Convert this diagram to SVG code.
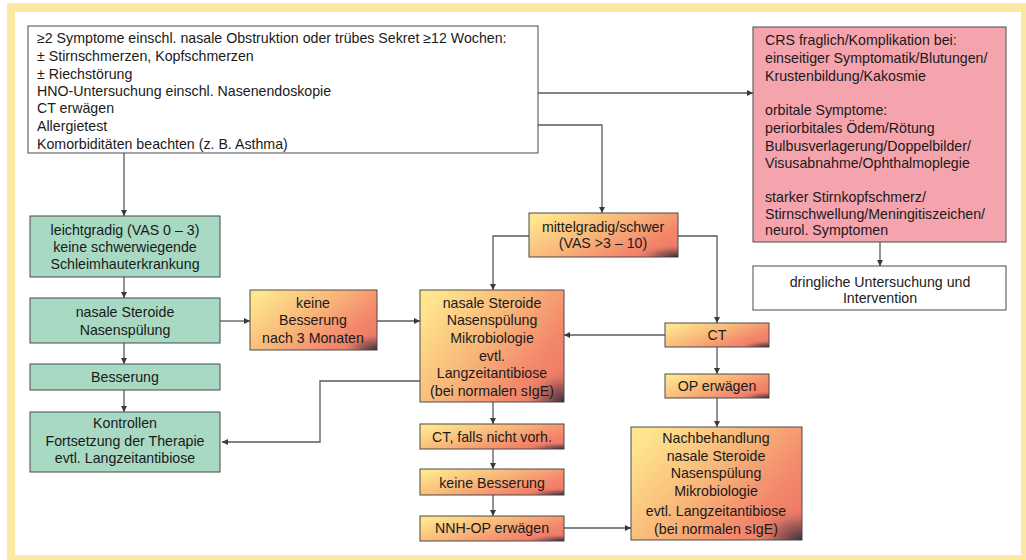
<svg xmlns="http://www.w3.org/2000/svg" width="1026" height="560" viewBox="0 0 1026 560">
<style>
text{font-family:"Liberation Sans",Arial,sans-serif;font-size:14.2px;fill:#1a1a1a}
.c{text-anchor:middle}
.box{stroke:#4a4a4a;stroke-width:1}
.w{fill:#ffffff}
.g{fill:#a7d9c3}
.p{fill:#f5a4ae}
.o{fill:url(#og)}
.sh{fill:url(#dk)}
.ln{fill:none;stroke:#5a5a5a;stroke-width:1.3;marker-end:url(#ah)}
</style>
<defs>
<linearGradient id="og" x1="0" y1="0.2" x2="1" y2="0.8">
<stop offset="0" stop-color="#ffe68e"/>
<stop offset="0.45" stop-color="#f8b578"/>
<stop offset="0.8" stop-color="#f3866b"/>
<stop offset="1" stop-color="#ef7a66"/>
</linearGradient>
<radialGradient id="dk" cx="1" cy="1" r="0.3">
<stop offset="0" stop-color="#2e2e3a" stop-opacity="0.95"/>
<stop offset="0.5" stop-color="#5a3a45" stop-opacity="0.45"/>
<stop offset="1" stop-color="#f3866b" stop-opacity="0"/>
</radialGradient>
<marker id="ah" viewBox="0 0 10 10" refX="10" refY="5" markerWidth="6" markerHeight="6" markerUnits="userSpaceOnUse" orient="auto">
<path d="M0,0 L10,5 L0,10 z" fill="#3a3a3a"/>
</marker>
</defs>

<rect x="7" y="3" width="1030" height="570" fill="#fde8a3"/>
<rect x="15" y="12" width="1006" height="543" fill="#ffffff"/>

<g id="connectors">
<path class="ln" d="M538,93 H753"/>
<path class="ln" d="M538,125 H602 V213"/>
<path class="ln" d="M124,153 V216"/>
<path class="ln" d="M124,277 V298"/>
<path class="ln" d="M124,343 V364"/>
<path class="ln" d="M124,390 V412"/>
<path class="ln" d="M220,321 H250"/>
<path class="ln" d="M377,321 H420"/>
<path class="ln" d="M420,381 H320 V442 H222"/>
<path class="ln" d="M529,236 H493 V290"/>
<path class="ln" d="M678,236 H717 V323"/>
<path class="ln" d="M665,335 H564"/>
<path class="ln" d="M717,347 V374"/>
<path class="ln" d="M717,398 V427"/>
<path class="ln" d="M493,402 V424"/>
<path class="ln" d="M493,449 V469"/>
<path class="ln" d="M493,495 V516"/>
<path class="ln" d="M564,528 H631"/>
<path class="ln" d="M880,242 V266"/>
</g>

<g id="n-start">
<rect class="box w" x="28" y="26" width="510" height="127"/>
<text x="37" y="43">≥2 Symptome einschl. nasale Obstruktion oder trübes Sekret ≥12 Wochen:</text>
<text x="37" y="61">± Stirnschmerzen, Kopfschmerzen</text>
<text x="37" y="79">± Riechstörung</text>
<text x="37" y="96">HNO-Untersuchung einschl. Nasenendoskopie</text>
<text x="37" y="113">CT erwägen</text>
<text x="37" y="131">Allergietest</text>
<text x="37" y="149">Komorbiditäten beachten (z. B. Asthma)</text>
</g>

<g id="n-crs">
<rect class="box p" x="753" y="27" width="253" height="215"/>
<text x="765" y="45">CRS fraglich/Komplikation bei:</text>
<text x="765" y="63">einseitiger Symptomatik/Blutungen/</text>
<text x="765" y="81">Krustenbildung/Kakosmie</text>
<text x="765" y="115">orbitale Symptome:</text>
<text x="765" y="133">periorbitales Ödem/Rötung</text>
<text x="765" y="151">Bulbusverlagerung/Doppelbilder/</text>
<text x="765" y="168">Visusabnahme/Ophthalmoplegie</text>
<text x="765" y="202">starker Stirnkopfschmerz/</text>
<text x="765" y="219">Stirnschwellung/Meningitiszeichen/</text>
<text x="765" y="235">neurol. Symptomen</text>
</g>

<g id="n-dringlich">
<rect class="box w" x="753" y="266" width="253" height="44"/>
<text class="c" x="880" y="287">dringliche Untersuchung und</text>
<text class="c" x="880" y="303">Intervention</text>
</g>

<g id="n-leicht">
<rect class="box g" x="30" y="216" width="190" height="61"/>
<text class="c" x="125" y="235">leichtgradig (VAS 0 – 3)</text>
<text class="c" x="125" y="252">keine schwerwiegende</text>
<text class="c" x="125" y="269">Schleimhauterkrankung</text>
</g>

<g id="n-steroide1">
<rect class="box g" x="30" y="298" width="190" height="45"/>
<text class="c" x="125" y="317">nasale Steroide</text>
<text class="c" x="125" y="335">Nasenspülung</text>
</g>

<g id="n-besserung">
<rect class="box g" x="30" y="364" width="190" height="26"/>
<text class="c" x="125" y="382">Besserung</text>
</g>

<g id="n-kontrollen">
<rect class="box g" x="30" y="412" width="190" height="60"/>
<text class="c" x="125" y="428">Kontrollen</text>
<text class="c" x="125" y="446">Fortsetzung der Therapie</text>
<text class="c" x="125" y="463">evtl. Langzeitantibiose</text>
</g>

<g id="n-keine3">
<rect class="box o" x="250" y="290" width="127" height="60"/>
<rect class="sh" x="250" y="290" width="127" height="60"/>
<text class="c" x="313" y="308">keine</text>
<text class="c" x="313" y="325">Besserung</text>
<text class="c" x="313" y="343">nach 3 Monaten</text>
</g>

<g id="n-mittel">
<rect class="box o" x="529" y="213" width="149" height="44"/>
<rect class="sh" x="529" y="213" width="149" height="44"/>
<text class="c" x="603" y="232">mittelgradig/schwer</text>
<text class="c" x="603" y="248">(VAS &gt;3 – 10)</text>
</g>

<g id="n-steroide2">
<rect class="box o" x="420" y="290" width="144" height="112"/>
<rect class="sh" x="420" y="290" width="144" height="112"/>
<text class="c" x="492" y="308">nasale Steroide</text>
<text class="c" x="492" y="325">Nasenspülung</text>
<text class="c" x="492" y="343">Mikrobiologie</text>
<text class="c" x="492" y="361">evtl.</text>
<text class="c" x="492" y="378">Langzeitantibiose</text>
<text class="c" x="492" y="396">(bei normalen sIgE)</text>
</g>

<g id="n-ctfalls">
<rect class="box o" x="420" y="424" width="144" height="25"/>
<rect class="sh" x="420" y="424" width="144" height="25"/>
<text class="c" x="492" y="442">CT, falls nicht vorh.</text>
</g>

<g id="n-keine">
<rect class="box o" x="420" y="469" width="144" height="26"/>
<rect class="sh" x="420" y="469" width="144" height="26"/>
<text class="c" x="492" y="488">keine Besserung</text>
</g>

<g id="n-nnh">
<rect class="box o" x="420" y="516" width="144" height="25"/>
<rect class="sh" x="420" y="516" width="144" height="25"/>
<text class="c" x="492" y="533">NNH-OP erwägen</text>
</g>

<g id="n-ct">
<rect class="box o" x="665" y="323" width="104" height="24"/>
<rect class="sh" x="665" y="323" width="104" height="24"/>
<text class="c" x="717" y="340">CT</text>
</g>

<g id="n-op">
<rect class="box o" x="665" y="374" width="104" height="24"/>
<rect class="sh" x="665" y="374" width="104" height="24"/>
<text class="c" x="717" y="391">OP erwägen</text>
</g>

<g id="n-nachbeh">
<rect class="box o" x="631" y="427" width="171" height="113"/>
<rect class="sh" x="631" y="427" width="171" height="113"/>
<text class="c" x="716" y="443">Nachbehandlung</text>
<text class="c" x="716" y="461">nasale Steroide</text>
<text class="c" x="716" y="478">Nasenspülung</text>
<text class="c" x="716" y="496">Mikrobiologie</text>
<text class="c" x="716" y="516">evtl. Langzeitantibiose</text>
<text class="c" x="716" y="534">(bei normalen sIgE)</text>
</g>
</svg>
